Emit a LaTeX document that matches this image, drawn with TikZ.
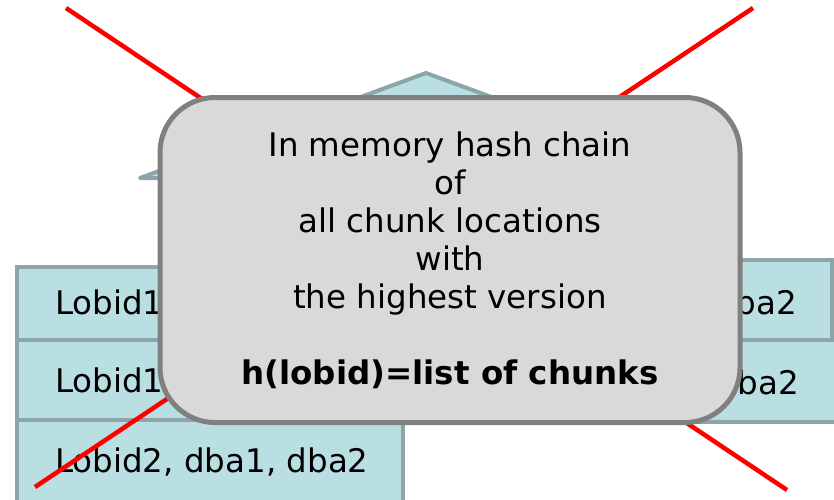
\documentclass[tikz,border=0pt]{standalone}
\usepackage{fontspec}
\setmainfont{DejaVu Sans}
\usetikzlibrary{positioning}

\definecolor{cellCyan}{HTML}{B9DFE3}
\definecolor{tealGray}{HTML}{8BA5A8}
\definecolor{boxGray}{HTML}{D9D9D9}
\definecolor{edgeGray}{HTML}{808080}

\begin{document}
\begin{tikzpicture}[
    x=1pt, y=-1pt,
    font=\fontsize{32.5}{38}\selectfont,
    cellBox/.style={draw=tealGray, fill=cellCyan, line width=4.5pt, anchor=north west, inner sep=0pt, outer sep=0pt},
    cellText/.style={inner sep=0pt, text=black},
    crossLine/.style={draw=red, line width=4.5pt},
    hashBox/.style={draw=edgeGray, fill=boxGray, line width=5pt, rounded corners=55pt, align=center, minimum width=580pt, minimum height=325pt, inner sep=0pt}
]
    \useasboundingbox (0,0) rectangle (834,499);

    % Roof shape behind the box
    \filldraw [fill=cellCyan, draw=tealGray, line width=4pt, line join=round] (140,178) -- (426,73) -- (712,178) -- cycle;

    % Table rows
    \node [cellBox, minimum width=503pt, minimum height=73pt] (row1) at (17,267) {};
    \node [cellBox, minimum width=503pt, minimum height=80pt] (row2) at (17,340) {};
    \node [cellBox, minimum width=386pt, minimum height=90pt] (row3) at (17,420) {};
    \node [cellBox, minimum width=332pt, minimum height=80pt] (rowR1) at (500,260) {};
    \node [cellBox, minimum width=360pt, minimum height=82pt] (rowR2) at (500,340) {};

    % Row texts
    \node [cellText, anchor=west] (lob1) at (55,304) {Lobid1,};
    \node [cellText, anchor=west] (lob1b) at (55,382) {Lobid1,};
    \node [cellText, anchor=west] (lob2) at (55,462) {Lobid2, dba1, dba2};
    \node [cellText, anchor=east] (dbaR1) at (797,302) {dba2};
    \node [cellText, anchor=east] (dbaR2) at (799,382) {dba2};

    % Red cross
    \coordinate (crossTL) at (66,8);
    \coordinate (crossBR) at (787,490);
    \coordinate (crossTR) at (753,8);
    \coordinate (crossBL) at (35,487);
    \draw [crossLine] (crossTL) -- (crossBR);
    \draw [crossLine] (crossTR) -- (crossBL);

    % Hash chain box
    \node [hashBox] (hashbox) at (450,260) {In memory hash chain\\of\\all chunk locations\\with\\the highest version\\[38pt]\textbf{h(lobid)=list of chunks}};
\end{tikzpicture}
\end{document}
